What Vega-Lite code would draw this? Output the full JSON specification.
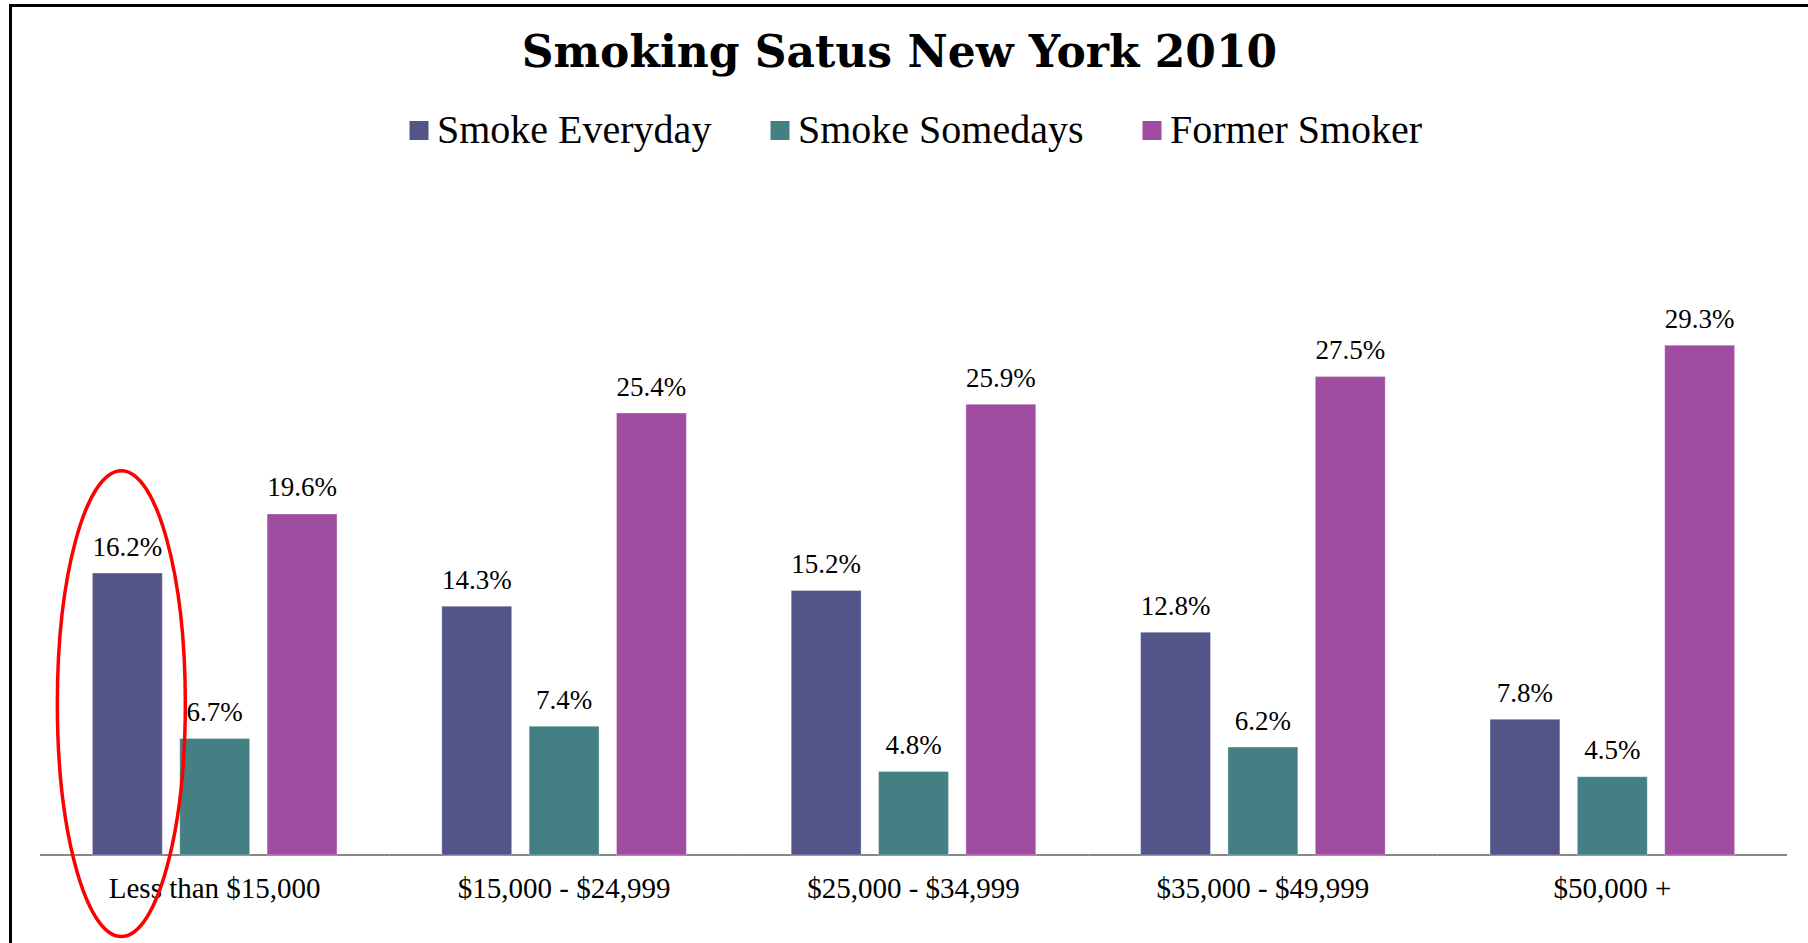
{
  "$schema": "https://vega.github.io/schema/vega-lite/v6.json",
  "autosize": {"type": "none"},
  "width": 1802,
  "height": 942,
  "padding": {"left": 10.5, "top": 5.5, "right": -4.5, "bottom": -4.5},
  "background": "white",
  "view": {"stroke": "black", "strokeWidth": 3, "fill": "white"},
  "title": {
    "text": "Smoking Satus New York 2010",
    "font": "DejaVu Serif",
    "fontWeight": "bold",
    "fontSize": 44,
    "color": "black",
    "anchor": "middle",
    "frame": "group",
    "offset": -70,
    "dx": -12
  },
  "datasets": {
    "smoking": [
      {"income": "Less than $15,000", "status": "Smoke Everyday", "share": 0.162},
      {"income": "Less than $15,000", "status": "Smoke Somedays", "share": 0.067},
      {"income": "Less than $15,000", "status": "Former Smoker", "share": 0.196},
      {"income": "$15,000 - $24,999", "status": "Smoke Everyday", "share": 0.143},
      {"income": "$15,000 - $24,999", "status": "Smoke Somedays", "share": 0.074},
      {"income": "$15,000 - $24,999", "status": "Former Smoker", "share": 0.254},
      {"income": "$25,000 - $34,999", "status": "Smoke Everyday", "share": 0.152},
      {"income": "$25,000 - $34,999", "status": "Smoke Somedays", "share": 0.048},
      {"income": "$25,000 - $34,999", "status": "Former Smoker", "share": 0.259},
      {"income": "$35,000 - $49,999", "status": "Smoke Everyday", "share": 0.128},
      {"income": "$35,000 - $49,999", "status": "Smoke Somedays", "share": 0.062},
      {"income": "$35,000 - $49,999", "status": "Former Smoker", "share": 0.275},
      {"income": "$50,000 +", "status": "Smoke Everyday", "share": 0.078},
      {"income": "$50,000 +", "status": "Smoke Somedays", "share": 0.045},
      {"income": "$50,000 +", "status": "Former Smoker", "share": 0.293}
    ],
    "groups": [
      {"income": "Less than $15,000"},
      {"income": "$15,000 - $24,999"},
      {"income": "$25,000 - $34,999"},
      {"income": "$35,000 - $49,999"},
      {"income": "$50,000 +"}
    ],
    "highlight": [
      {"income": "Less than $15,000", "status": "Smoke Everyday"}
    ]
  },
  "data": {"name": "smoking"},
  "layer": [
    {
      "data": {"name": "groups"},
      "mark": {"type": "bar", "color": "#878787"},
      "encoding": {
        "x": {
          "field": "income",
          "type": "nominal",
          "sort": ["Less than $15,000", "$15,000 - $24,999", "$25,000 - $34,999", "$35,000 - $49,999", "$50,000 +"],
          "scale": {"paddingInner": 0, "paddingOuter": 0.0787, "align": 0.5364},
          "axis": {
            "orient": "bottom",
            "offset": -92.5,
            "title": null,
            "domain": false,
            "ticks": false,
            "tickSize": 0,
            "grid": false,
            "labelPadding": 19,
            "labelFont": "Liberation Serif",
            "labelFontSize": 29,
            "labelColor": "black",
            "labelAngle": 0,
            "labelLimit": 0
          }
        },
        "y": {
          "datum": 0.0006,
          "type": "quantitative",
          "scale": {"domain": [-0.05316, 0.4882], "nice": false, "zero": false},
          "axis": null
        },
        "y2": {"datum": -0.0006}
      }
    },
    {
      "mark": {"type": "bar", "stroke": "white", "strokeOpacity": 0.3, "strokeWidth": 1},
      "encoding": {
        "x": {
          "field": "income",
          "type": "nominal",
          "sort": ["Less than $15,000", "$15,000 - $24,999", "$25,000 - $34,999", "$35,000 - $49,999", "$50,000 +"]
        },
        "xOffset": {
          "field": "status",
          "type": "nominal",
          "sort": ["Smoke Everyday", "Smoke Somedays", "Former Smoker"],
          "scale": {"paddingInner": 0.2, "paddingOuter": 0.6}
        },
        "y": {"field": "share", "type": "quantitative"},
        "color": {
          "field": "status",
          "type": "nominal",
          "scale": {
            "domain": ["Smoke Everyday", "Smoke Somedays", "Former Smoker"],
            "range": ["#535588", "#447F83", "#A04DA1"]
          },
          "legend": {
            "orient": "none",
            "legendX": 388.5,
            "legendY": 105,
            "direction": "horizontal",
            "title": null,
            "padding": 0,
            "symbolType": "square",
            "symbolSize": 361,
            "symbolStrokeWidth": 0,
            "symbolOpacity": 1,
            "labelFont": "Liberation Serif",
            "labelFontSize": 40,
            "labelColor": "black",
            "labelOffset": -2,
            "labelLimit": 0,
            "columnPadding": 48
          }
        }
      }
    },
    {
      "mark": {"type": "text", "baseline": "alphabetic", "dy": -17.5, "font": "Liberation Serif", "fontSize": 27, "color": "black"},
      "encoding": {
        "x": {
          "field": "income",
          "type": "nominal",
          "sort": ["Less than $15,000", "$15,000 - $24,999", "$25,000 - $34,999", "$35,000 - $49,999", "$50,000 +"]
        },
        "xOffset": {
          "field": "status",
          "type": "nominal",
          "sort": ["Smoke Everyday", "Smoke Somedays", "Former Smoker"]
        },
        "y": {"field": "share", "type": "quantitative"},
        "text": {"field": "share", "type": "quantitative", "format": ".1%"}
      }
    },
    {
      "data": {"name": "highlight"},
      "mark": {
        "type": "point",
        "shape": "M-1.094,0 C-1.094,-2.01 -0.646,-3.64 -0.094,-3.64 C0.458,-3.64 0.906,-2.01 0.906,0 C0.906,2.01 0.458,3.64 -0.094,3.64 C-0.646,3.64 -1.094,2.01 -1.094,0 Z",
        "size": 16384,
        "filled": false,
        "stroke": "#FF0000",
        "strokeWidth": 3.5,
        "opacity": 1
      },
      "encoding": {
        "x": {
          "field": "income",
          "type": "nominal",
          "sort": ["Less than $15,000", "$15,000 - $24,999", "$25,000 - $34,999", "$35,000 - $49,999", "$50,000 +"]
        },
        "xOffset": {
          "field": "status",
          "type": "nominal",
          "sort": ["Smoke Everyday", "Smoke Somedays", "Former Smoker"]
        },
        "y": {"datum": 0.087, "type": "quantitative"}
      }
    }
  ]
}
